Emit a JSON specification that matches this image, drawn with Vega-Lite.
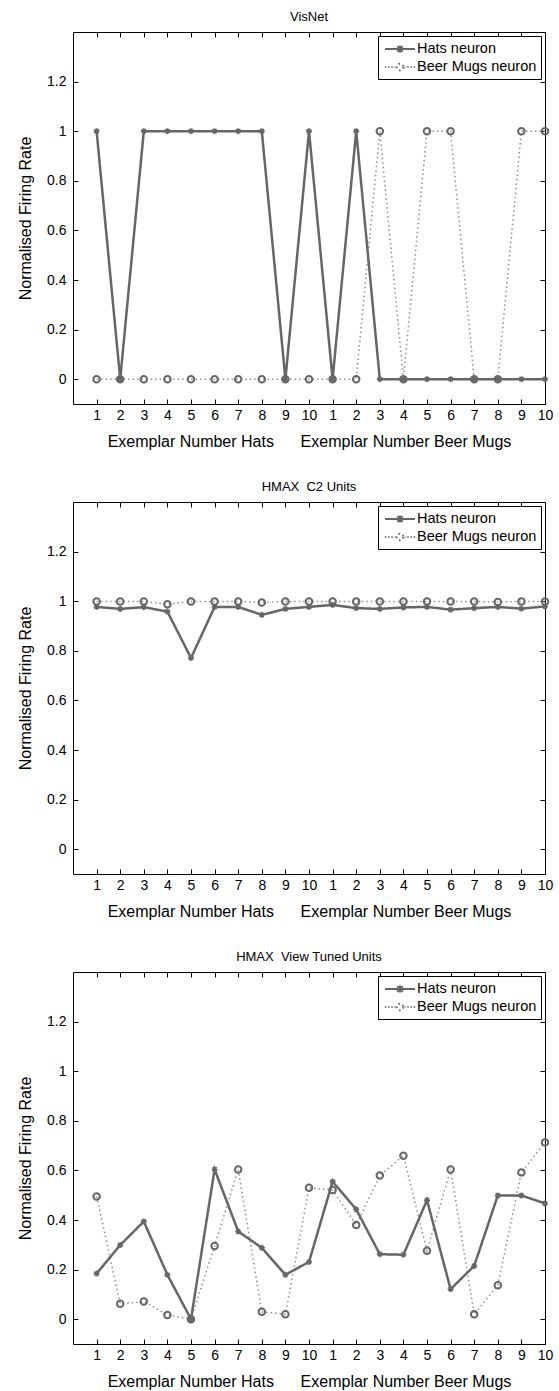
{
  "$schema": "https://vega.github.io/schema/vega-lite/v6.json",
  "padding": {"left": 17, "top": 10, "right": 5, "bottom": 0},
  "spacing": 30,
  "resolve": {"scale": {"strokeDash": "independent"}, "legend": {"strokeDash": "independent"}},
  "config": {
    "font": "Liberation Sans",
    "view": {"stroke": "black", "strokeWidth": 1},
    "axis": {"domain": false, "grid": false, "tickColor": "black", "tickWidth": 1, "tickSize": -5, "labelColor": "black", "labelFontSize": 14, "labelFont": "Liberation Sans", "titleFont": "Liberation Sans", "titleFontSize": 16, "titleFontWeight": "normal", "titleColor": "black"},
    "title": {"fontSize": 13, "fontWeight": "normal", "font": "Liberation Sans", "offset": 8, "color": "black"},
    "legend": {"orient": "top-right", "offset": 4, "strokeColor": "black", "fillColor": "white", "padding": 4, "cornerRadius": 0, "labelFontSize": 14.5, "labelColor": "black", "labelFont": "Liberation Sans", "symbolSize": 256, "symbolOffset": 9, "labelOffset": 8, "rowPadding": 1, "symbolStrokeWidth": 2, "symbolStrokeColor": "#666666", "symbolFillColor": "transparent"}
  },
  "datasets": {
    "visnet": [
      {"pos":1,"series":"Hats neuron","value":1},{"pos":2,"series":"Hats neuron","value":0},{"pos":3,"series":"Hats neuron","value":1},{"pos":4,"series":"Hats neuron","value":1},{"pos":5,"series":"Hats neuron","value":1},{"pos":6,"series":"Hats neuron","value":1},{"pos":7,"series":"Hats neuron","value":1},{"pos":8,"series":"Hats neuron","value":1},{"pos":9,"series":"Hats neuron","value":0},{"pos":10,"series":"Hats neuron","value":1},
      {"pos":11,"series":"Hats neuron","value":0},{"pos":12,"series":"Hats neuron","value":1},{"pos":13,"series":"Hats neuron","value":0},{"pos":14,"series":"Hats neuron","value":0},{"pos":15,"series":"Hats neuron","value":0},{"pos":16,"series":"Hats neuron","value":0},{"pos":17,"series":"Hats neuron","value":0},{"pos":18,"series":"Hats neuron","value":0},{"pos":19,"series":"Hats neuron","value":0},{"pos":20,"series":"Hats neuron","value":0},
      {"pos":1,"series":"Beer Mugs neuron","value":0},{"pos":2,"series":"Beer Mugs neuron","value":0},{"pos":3,"series":"Beer Mugs neuron","value":0},{"pos":4,"series":"Beer Mugs neuron","value":0},{"pos":5,"series":"Beer Mugs neuron","value":0},{"pos":6,"series":"Beer Mugs neuron","value":0},{"pos":7,"series":"Beer Mugs neuron","value":0},{"pos":8,"series":"Beer Mugs neuron","value":0},{"pos":9,"series":"Beer Mugs neuron","value":0},{"pos":10,"series":"Beer Mugs neuron","value":0},
      {"pos":11,"series":"Beer Mugs neuron","value":0},{"pos":12,"series":"Beer Mugs neuron","value":0},{"pos":13,"series":"Beer Mugs neuron","value":1},{"pos":14,"series":"Beer Mugs neuron","value":0},{"pos":15,"series":"Beer Mugs neuron","value":1},{"pos":16,"series":"Beer Mugs neuron","value":1},{"pos":17,"series":"Beer Mugs neuron","value":0},{"pos":18,"series":"Beer Mugs neuron","value":0},{"pos":19,"series":"Beer Mugs neuron","value":1},{"pos":20,"series":"Beer Mugs neuron","value":1}
    ],
    "c2": [
      {"pos":1,"series":"Hats neuron","value":0.977},{"pos":2,"series":"Hats neuron","value":0.969},{"pos":3,"series":"Hats neuron","value":0.976},{"pos":4,"series":"Hats neuron","value":0.958},{"pos":5,"series":"Hats neuron","value":0.771},{"pos":6,"series":"Hats neuron","value":0.977},{"pos":7,"series":"Hats neuron","value":0.977},{"pos":8,"series":"Hats neuron","value":0.945},{"pos":9,"series":"Hats neuron","value":0.969},{"pos":10,"series":"Hats neuron","value":0.977},
      {"pos":11,"series":"Hats neuron","value":0.985},{"pos":12,"series":"Hats neuron","value":0.972},{"pos":13,"series":"Hats neuron","value":0.969},{"pos":14,"series":"Hats neuron","value":0.975},{"pos":15,"series":"Hats neuron","value":0.977},{"pos":16,"series":"Hats neuron","value":0.966},{"pos":17,"series":"Hats neuron","value":0.972},{"pos":18,"series":"Hats neuron","value":0.977},{"pos":19,"series":"Hats neuron","value":0.97},{"pos":20,"series":"Hats neuron","value":0.979},
      {"pos":1,"series":"Beer Mugs neuron","value":0.999},{"pos":2,"series":"Beer Mugs neuron","value":0.999},{"pos":3,"series":"Beer Mugs neuron","value":0.999},{"pos":4,"series":"Beer Mugs neuron","value":0.988},{"pos":5,"series":"Beer Mugs neuron","value":0.999},{"pos":6,"series":"Beer Mugs neuron","value":0.999},{"pos":7,"series":"Beer Mugs neuron","value":0.999},{"pos":8,"series":"Beer Mugs neuron","value":0.995},{"pos":9,"series":"Beer Mugs neuron","value":0.999},{"pos":10,"series":"Beer Mugs neuron","value":0.999},
      {"pos":11,"series":"Beer Mugs neuron","value":0.999},{"pos":12,"series":"Beer Mugs neuron","value":0.999},{"pos":13,"series":"Beer Mugs neuron","value":0.999},{"pos":14,"series":"Beer Mugs neuron","value":0.999},{"pos":15,"series":"Beer Mugs neuron","value":0.999},{"pos":16,"series":"Beer Mugs neuron","value":0.999},{"pos":17,"series":"Beer Mugs neuron","value":0.999},{"pos":18,"series":"Beer Mugs neuron","value":0.997},{"pos":19,"series":"Beer Mugs neuron","value":0.999},{"pos":20,"series":"Beer Mugs neuron","value":0.999}
    ],
    "vtu": [
      {"pos":1,"series":"Hats neuron","value":0.184},{"pos":2,"series":"Hats neuron","value":0.299},{"pos":3,"series":"Hats neuron","value":0.394},{"pos":4,"series":"Hats neuron","value":0.179},{"pos":5,"series":"Hats neuron","value":0},{"pos":6,"series":"Hats neuron","value":0.604},{"pos":7,"series":"Hats neuron","value":0.354},{"pos":8,"series":"Hats neuron","value":0.288},{"pos":9,"series":"Hats neuron","value":0.179},{"pos":10,"series":"Hats neuron","value":0.231},
      {"pos":11,"series":"Hats neuron","value":0.555},{"pos":12,"series":"Hats neuron","value":0.443},{"pos":13,"series":"Hats neuron","value":0.262},{"pos":14,"series":"Hats neuron","value":0.26},{"pos":15,"series":"Hats neuron","value":0.48},{"pos":16,"series":"Hats neuron","value":0.121},{"pos":17,"series":"Hats neuron","value":0.215},{"pos":18,"series":"Hats neuron","value":0.499},{"pos":19,"series":"Hats neuron","value":0.499},{"pos":20,"series":"Hats neuron","value":0.467},
      {"pos":1,"series":"Beer Mugs neuron","value":0.495},{"pos":2,"series":"Beer Mugs neuron","value":0.062},{"pos":3,"series":"Beer Mugs neuron","value":0.071},{"pos":4,"series":"Beer Mugs neuron","value":0.017},{"pos":5,"series":"Beer Mugs neuron","value":0},{"pos":6,"series":"Beer Mugs neuron","value":0.295},{"pos":7,"series":"Beer Mugs neuron","value":0.604},{"pos":8,"series":"Beer Mugs neuron","value":0.03},{"pos":9,"series":"Beer Mugs neuron","value":0.02},{"pos":10,"series":"Beer Mugs neuron","value":0.53},
      {"pos":11,"series":"Beer Mugs neuron","value":0.521},{"pos":12,"series":"Beer Mugs neuron","value":0.38},{"pos":13,"series":"Beer Mugs neuron","value":0.579},{"pos":14,"series":"Beer Mugs neuron","value":0.659},{"pos":15,"series":"Beer Mugs neuron","value":0.276},{"pos":16,"series":"Beer Mugs neuron","value":0.604},{"pos":17,"series":"Beer Mugs neuron","value":0.02},{"pos":18,"series":"Beer Mugs neuron","value":0.137},{"pos":19,"series":"Beer Mugs neuron","value":0.592},{"pos":20,"series":"Beer Mugs neuron","value":0.713}
    ]
  },
  "vconcat": [
    {
      "title": "VisNet",
      "width": 472, "height": 372,
      "data": {"name": "visnet"},
      "resolve": {"axis": {"x": "independent", "y": "independent"}},
      "layer": [
        {"transform": [{"filter": "datum.series === 'Beer Mugs neuron'"}],
         "mark": {"type": "line", "stroke": "#8f8f8f", "strokeWidth": 1.5},
         "encoding": {
           "x": {"field": "pos", "type": "quantitative", "scale": {"domain": [0, 20], "nice": false, "zero": false}, "axis": {"orient": "bottom", "values": [1,2,3,4,5,6,7,8,9,10,11,12,13,14,15,16,17,18,19,20], "labelExpr": "datum.value > 10 ? datum.value - 10 : datum.value", "labelPadding": 9, "labelFlush": false, "labelOverlap": false, "title": "\u00a0\u00a0Exemplar Number Hats\u00a0\u00a0\u00a0\u00a0\u00a0\u00a0Exemplar Number Beer Mugs", "titlePadding": 11}},
           "y": {"field": "value", "type": "quantitative", "scale": {"domain": [-0.1, 1.4], "nice": false, "zero": false}, "axis": {"orient": "left", "values": [0, 0.2, 0.4, 0.6, 0.8, 1, 1.2], "format": "~g", "labelPadding": 12, "title": "Normalised Firing Rate", "titlePadding": 13}},
           "strokeDash": {"field": "series", "type": "nominal", "scale": {"domain": ["Hats neuron", "Beer Mugs neuron"], "range": [[1, 0], [1.5, 3]]},
             "legend": {"title": null,
               "encode": {"symbols": {"update": {"size": {"value": 256}, "shape": {"signal": "(datum.value === 'Hats neuron' ? 'M-1.875,0H1.875M-0.35,-0.35L0.35,0.35M-0.35,0.35L0.35,-0.35M0,-0.45V0.45' : 'M-1.875,0H-1.725M-1.475,0H-1.325M-1.075,0H-0.925M-0.675,0H-0.6M0.41,0A0.41,0.41 0 1,1 -0.41,0A0.41,0.41 0 1,1 0.41,0M0.6,0H0.675M0.925,0H1.075M1.325,0H1.475M1.725,0H1.875')"}, "strokeDash": {"value": [1, 0]}, "strokeWidth": {"value": 2}, "stroke": {"value": "#666666"}, "fill": {"value": "transparent"}}}}}}
         }},
        {"transform": [{"filter": "datum.series === 'Beer Mugs neuron'"}],
         "mark": {"type": "point", "shape": "circle", "size": 42, "filled": false, "stroke": "#666666", "strokeWidth": 2, "opacity": 1},
         "encoding": {
           "x": {"field": "pos", "type": "quantitative", "axis": {"orient": "top", "values": [1,2,3,4,5,6,7,8,9,10,11,12,13,14,15,16,17,18,19,20], "labels": false, "title": null}},
           "y": {"field": "value", "type": "quantitative", "axis": {"orient": "right", "values": [0, 0.2, 0.4, 0.6, 0.8, 1, 1.2], "labels": false, "title": null}}
         }},
        {"transform": [{"filter": "datum.series === 'Hats neuron'"}],
         "mark": {"type": "line", "stroke": "#666666", "strokeWidth": 2.5},
         "encoding": {
           "x": {"field": "pos", "type": "quantitative", "axis": null},
           "y": {"field": "value", "type": "quantitative", "axis": null},
           "strokeDash": {"field": "series", "type": "nominal"}
         }},
        {"transform": [{"filter": "datum.series === 'Hats neuron'"}],
         "mark": {"type": "point", "shape": "M-1,0H1M0,-1V1M-0.7,-0.7L0.7,0.7M-0.7,0.7L0.7,-0.7", "size": 36, "filled": false, "stroke": "#666666", "strokeWidth": 1.5, "opacity": 1},
         "encoding": {
           "x": {"field": "pos", "type": "quantitative", "axis": null},
           "y": {"field": "value", "type": "quantitative", "axis": null}
         }}
      ]
    },
    {
      "title": "HMAX\u00a0\u00a0C2 Units",
      "width": 472, "height": 372,
      "data": {"name": "c2"},
      "resolve": {"axis": {"x": "independent", "y": "independent"}},
      "layer": [
        {"transform": [{"filter": "datum.series === 'Beer Mugs neuron'"}],
         "mark": {"type": "line", "stroke": "#8f8f8f", "strokeWidth": 1.5},
         "encoding": {
           "x": {"field": "pos", "type": "quantitative", "scale": {"domain": [0, 20], "nice": false, "zero": false}, "axis": {"orient": "bottom", "values": [1,2,3,4,5,6,7,8,9,10,11,12,13,14,15,16,17,18,19,20], "labelExpr": "datum.value > 10 ? datum.value - 10 : datum.value", "labelPadding": 9, "labelFlush": false, "labelOverlap": false, "title": "\u00a0\u00a0Exemplar Number Hats\u00a0\u00a0\u00a0\u00a0\u00a0\u00a0Exemplar Number Beer Mugs", "titlePadding": 11}},
           "y": {"field": "value", "type": "quantitative", "scale": {"domain": [-0.1, 1.4], "nice": false, "zero": false}, "axis": {"orient": "left", "values": [0, 0.2, 0.4, 0.6, 0.8, 1, 1.2], "format": "~g", "labelPadding": 12, "title": "Normalised Firing Rate", "titlePadding": 13}},
           "strokeDash": {"field": "series", "type": "nominal", "scale": {"domain": ["Hats neuron", "Beer Mugs neuron"], "range": [[1, 0], [1.5, 3]]},
             "legend": {"title": null,
               "encode": {"symbols": {"update": {"size": {"value": 256}, "shape": {"signal": "(datum.value === 'Hats neuron' ? 'M-1.875,0H1.875M-0.35,-0.35L0.35,0.35M-0.35,0.35L0.35,-0.35M0,-0.45V0.45' : 'M-1.875,0H-1.725M-1.475,0H-1.325M-1.075,0H-0.925M-0.675,0H-0.6M0.41,0A0.41,0.41 0 1,1 -0.41,0A0.41,0.41 0 1,1 0.41,0M0.6,0H0.675M0.925,0H1.075M1.325,0H1.475M1.725,0H1.875')"}, "strokeDash": {"value": [1, 0]}, "strokeWidth": {"value": 2}, "stroke": {"value": "#666666"}, "fill": {"value": "transparent"}}}}}}
         }},
        {"transform": [{"filter": "datum.series === 'Beer Mugs neuron'"}],
         "mark": {"type": "point", "shape": "circle", "size": 42, "filled": false, "stroke": "#666666", "strokeWidth": 2, "opacity": 1},
         "encoding": {
           "x": {"field": "pos", "type": "quantitative", "axis": {"orient": "top", "values": [1,2,3,4,5,6,7,8,9,10,11,12,13,14,15,16,17,18,19,20], "labels": false, "title": null}},
           "y": {"field": "value", "type": "quantitative", "axis": {"orient": "right", "values": [0, 0.2, 0.4, 0.6, 0.8, 1, 1.2], "labels": false, "title": null}}
         }},
        {"transform": [{"filter": "datum.series === 'Hats neuron'"}],
         "mark": {"type": "line", "stroke": "#666666", "strokeWidth": 2.5},
         "encoding": {
           "x": {"field": "pos", "type": "quantitative", "axis": null},
           "y": {"field": "value", "type": "quantitative", "axis": null},
           "strokeDash": {"field": "series", "type": "nominal"}
         }},
        {"transform": [{"filter": "datum.series === 'Hats neuron'"}],
         "mark": {"type": "point", "shape": "M-1,0H1M0,-1V1M-0.7,-0.7L0.7,0.7M-0.7,0.7L0.7,-0.7", "size": 36, "filled": false, "stroke": "#666666", "strokeWidth": 1.5, "opacity": 1},
         "encoding": {
           "x": {"field": "pos", "type": "quantitative", "axis": null},
           "y": {"field": "value", "type": "quantitative", "axis": null}
         }}
      ]
    },
    {
      "title": "HMAX\u00a0\u00a0View Tuned Units",
      "width": 472, "height": 372,
      "data": {"name": "vtu"},
      "resolve": {"axis": {"x": "independent", "y": "independent"}},
      "layer": [
        {"transform": [{"filter": "datum.series === 'Beer Mugs neuron'"}],
         "mark": {"type": "line", "stroke": "#8f8f8f", "strokeWidth": 1.5},
         "encoding": {
           "x": {"field": "pos", "type": "quantitative", "scale": {"domain": [0, 20], "nice": false, "zero": false}, "axis": {"orient": "bottom", "values": [1,2,3,4,5,6,7,8,9,10,11,12,13,14,15,16,17,18,19,20], "labelExpr": "datum.value > 10 ? datum.value - 10 : datum.value", "labelPadding": 9, "labelFlush": false, "labelOverlap": false, "title": "\u00a0\u00a0Exemplar Number Hats\u00a0\u00a0\u00a0\u00a0\u00a0\u00a0Exemplar Number Beer Mugs", "titlePadding": 11}},
           "y": {"field": "value", "type": "quantitative", "scale": {"domain": [-0.1, 1.4], "nice": false, "zero": false}, "axis": {"orient": "left", "values": [0, 0.2, 0.4, 0.6, 0.8, 1, 1.2], "format": "~g", "labelPadding": 12, "title": "Normalised Firing Rate", "titlePadding": 13}},
           "strokeDash": {"field": "series", "type": "nominal", "scale": {"domain": ["Hats neuron", "Beer Mugs neuron"], "range": [[1, 0], [1.5, 3]]},
             "legend": {"title": null,
               "encode": {"symbols": {"update": {"size": {"value": 256}, "shape": {"signal": "(datum.value === 'Hats neuron' ? 'M-1.875,0H1.875M-0.35,-0.35L0.35,0.35M-0.35,0.35L0.35,-0.35M0,-0.45V0.45' : 'M-1.875,0H-1.725M-1.475,0H-1.325M-1.075,0H-0.925M-0.675,0H-0.6M0.41,0A0.41,0.41 0 1,1 -0.41,0A0.41,0.41 0 1,1 0.41,0M0.6,0H0.675M0.925,0H1.075M1.325,0H1.475M1.725,0H1.875')"}, "strokeDash": {"value": [1, 0]}, "strokeWidth": {"value": 2}, "stroke": {"value": "#666666"}, "fill": {"value": "transparent"}}}}}}
         }},
        {"transform": [{"filter": "datum.series === 'Beer Mugs neuron'"}],
         "mark": {"type": "point", "shape": "circle", "size": 42, "filled": false, "stroke": "#666666", "strokeWidth": 2, "opacity": 1},
         "encoding": {
           "x": {"field": "pos", "type": "quantitative", "axis": {"orient": "top", "values": [1,2,3,4,5,6,7,8,9,10,11,12,13,14,15,16,17,18,19,20], "labels": false, "title": null}},
           "y": {"field": "value", "type": "quantitative", "axis": {"orient": "right", "values": [0, 0.2, 0.4, 0.6, 0.8, 1, 1.2], "labels": false, "title": null}}
         }},
        {"transform": [{"filter": "datum.series === 'Hats neuron'"}],
         "mark": {"type": "line", "stroke": "#666666", "strokeWidth": 2.5},
         "encoding": {
           "x": {"field": "pos", "type": "quantitative", "axis": null},
           "y": {"field": "value", "type": "quantitative", "axis": null},
           "strokeDash": {"field": "series", "type": "nominal"}
         }},
        {"transform": [{"filter": "datum.series === 'Hats neuron'"}],
         "mark": {"type": "point", "shape": "M-1,0H1M0,-1V1M-0.7,-0.7L0.7,0.7M-0.7,0.7L0.7,-0.7", "size": 36, "filled": false, "stroke": "#666666", "strokeWidth": 1.5, "opacity": 1},
         "encoding": {
           "x": {"field": "pos", "type": "quantitative", "axis": null},
           "y": {"field": "value", "type": "quantitative", "axis": null}
         }}
      ]
    }
  ]
}
